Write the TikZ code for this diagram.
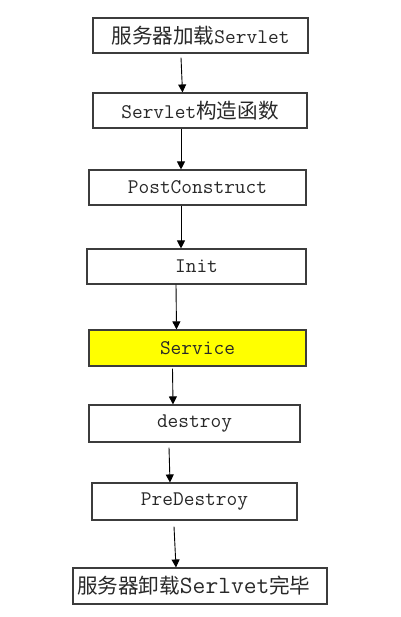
\documentclass[tikz,border=0pt]{standalone}
\usepackage{fontspec}
\newfontfamily\cjk[Scale=0.99]{Noto Sans CJK SC}
\usepackage{tikz}
\usetikzlibrary{arrows.meta}

\definecolor{boxgray}{RGB}{60,60,60}
\definecolor{textgray}{RGB}{40,40,40}
\definecolor{serviceyellow}{RGB}{255,255,0}

\tikzset{
    stepbox/.style={draw=boxgray, line width=1.1pt, inner sep=0pt,
        minimum height=35pt, text=textgray,
        font=\ttfamily\fontsize{20.8}{22}\selectfont},
}

\begin{document}
\begin{tikzpicture}[x=1pt, y=-1pt, >={Triangle[length=8pt,width=8pt]}]
        \useasboundingbox (0,0) rectangle (400,617);

        % the steps
        \node[stepbox, minimum width=215pt] (load) at (200.5,35.5) {{\cjk 服务器加载}Servlet};
        \node[stepbox, minimum width=214pt] (ctor) at (200,110.5) {Servlet{\cjk 构造函数}};
        \node[stepbox, minimum width=217pt] (post) at (197.5,187.5) {PostConstruct};
        \node[stepbox, minimum width=219pt] (init) at (196.5,266.5) {Init};
        \node[stepbox, minimum width=217pt, minimum height=36pt, fill=serviceyellow] (service) at (197.5,348) {Service};
        \node[stepbox, minimum width=211pt, minimum height=37pt] (destroy) at (194.5,423.5) {destroy};
        \node[stepbox, minimum width=205pt, minimum height=37pt] (pre) at (194.5,501.5) {PreDestroy};
        \node[stepbox, minimum width=254pt, minimum height=36pt, text width=246pt, inner xsep=4pt, align=left] (unload) at (200,586) {{\cjk 服务器卸载}{\fontsize{24.8}{26}\selectfont Serlvet}{\cjk 完毕}};

        % draw the arrows
        \draw[->, line width=0.9pt] ([xshift=-19.5pt,yshift=-4pt]load.south) -- ([xshift=-17.5pt]ctor.north);
        \draw[->, line width=0.9pt] ([xshift=-19pt]ctor.south) -- ([xshift=-16.5pt]post.north);
        \draw[->, line width=0.9pt] ([xshift=-16.5pt]post.south) -- ([xshift=-15.5pt]init.north);
        \draw[->, line width=0.9pt] ([xshift=-20.5pt]init.south) -- ([xshift=-21pt]service.north);
        \draw[->, line width=0.9pt] ([xshift=-25pt,yshift=-2pt]service.south) -- ([xshift=-21.5pt]destroy.north);
        \draw[->, line width=0.9pt] ([xshift=-25.5pt,yshift=-5pt]destroy.south) -- ([xshift=-24.5pt]pre.north);
        \draw[->, line width=0.9pt] ([xshift=-20.5pt,yshift=-6pt]pre.south) -- ([xshift=-24pt]unload.north);

\end{tikzpicture}
\end{document}
